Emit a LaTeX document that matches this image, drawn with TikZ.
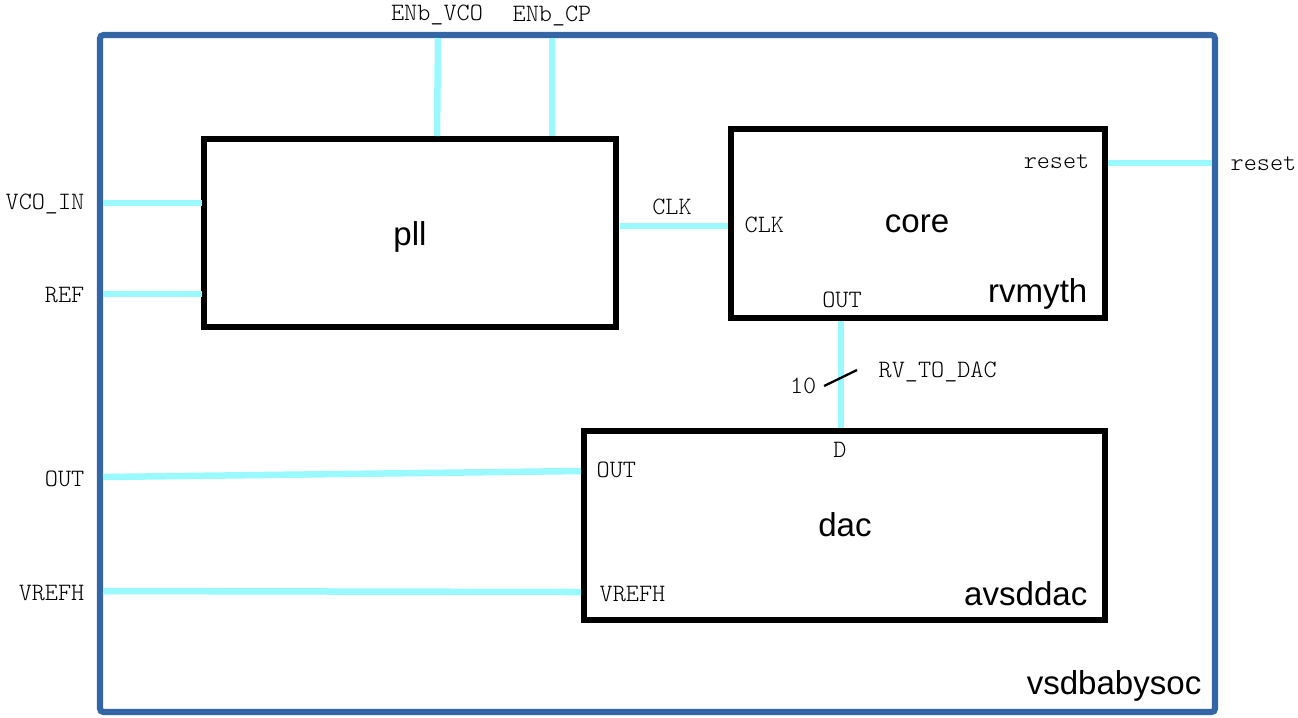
\documentclass[tikz,border=0pt]{standalone}
\usepackage{fontspec}
\setmainfont{Liberation Sans}
\newfontfamily\pinfont{lmmonolt10-regular.otf}
\usetikzlibrary{calc}
\definecolor{wirec}{RGB}{153,249,255}
\definecolor{framec}{RGB}{52,101,164}
\begin{document}
\begin{tikzpicture}[x=0.01cm,y=-0.01cm,
  blk/.style={draw=black,line width=1.45pt,inner sep=0pt,outer sep=0pt,font=\fontsize{9.4}{10}\selectfont},
  frame/.style={draw=framec,line width=1.75pt,inner sep=0pt,outer sep=0pt,rounded corners=1pt},
  wire/.style={draw=wirec,line width=1.85pt},
  pin/.style={font=\pinfont\fontsize{7.1}{8}\selectfont,inner sep=0pt},
  big/.style={font=\fontsize{9.4}{10}\selectfont,inner sep=0pt}]
\useasboundingbox (0,0) rectangle (1298,717);
% frame and blocks
\node[frame,minimum width=1115*0.01cm,minimum height=677*0.01cm] (top) at (657.5,373.5) {};
\node[blk,minimum width=412*0.01cm,minimum height=188*0.01cm] (pll) at (410,233) {};
\node[blk,minimum width=374*0.01cm,minimum height=189*0.01cm] (core) at (918,223.5) {};
\node[blk,minimum width=521*0.01cm,minimum height=189*0.01cm] (dac) at (844.5,525.5) {};
% block names
\node[big] (pllname) at (410,237) {pll};
\node[big] (corename) at (917,224) {core};
\node[big,anchor=east] (rvname) at (1088,294) {rvmyth};
\node[big] (dacname) at (845,525) {dac};
\node[big,anchor=east] (avsname) at (1088,594) {avsddac};
\node[big,anchor=east] (socname) at (1202,686) {vsdbabysoc};
% pin coordinates
\coordinate (envco) at (438,38);
\coordinate (encp) at (552,38);
\coordinate (vcoin) at (103,203);
\coordinate (ref) at (103,294);
\coordinate (outp) at (103,477);
\coordinate (vrefh) at (103,591);
\coordinate (rst) at (1212,163);
% wires
\draw[wire] (envco) -- (437,136);
\draw[wire] (encp) -- ($(pll.north -| encp)+(0,-3)$);
\draw[wire] (vcoin) -- ($(pll.west |- vcoin)+(-2,0)$);
\draw[wire] (ref) -- ($(pll.west |- ref)+(-2,0)$);
\draw[wire] ($(pll.east)+(4,-7)$) coordinate (clka) -- ($(core.west |- clka)+(-3,0)$);
\draw[wire] (rst) -- ($(core.east |- rst)+(3,0)$);
\draw[wire] ($(core.south)+(-77,3)$) coordinate (rvo) -- ($(dac.north -| rvo)+(0,-3)$);
\draw[wire] (outp) -- (581,471);
\draw[wire] (vrefh) -- (581,592);
% bus slash
\coordinate (bs1) at (824,386);
\coordinate (bs2) at (857,370);
\draw[black,line width=0.65pt] (bs1) -- (bs2);
% external labels
\node[pin] (lenvco) at (437,15) {ENb\_VCO};
\node[pin] (lencp) at (552,16) {ENb\_CP};
\node[pin,anchor=east] (lvcoin) at (85,204) {VCO\_IN};
\node[pin,anchor=east] (lref) at (85,295) {REF};
\node[pin,anchor=east] (lout) at (85,479) {OUT};
\node[pin,anchor=east] (lvrefh) at (85,593) {VREFH};
\node[pin,anchor=west] (lrst) at (1230,164) {reset};
\node[pin] (lclkw) at (672,207) {CLK};
\node[pin,anchor=west] (lbus) at (878,372) {RV\_TO\_DAC};
\node[pin,anchor=east] (lten) at (817,386) {10};
% internal pin labels
\node[pin,anchor=west] (cclk) at (744,225) {CLK};
\node[pin,anchor=east] (crst) at (1090,162) {reset};
\node[pin] (cout) at (842,300) {OUT};
\node[pin] (dd) at (840,450) {D};
\node[pin,anchor=west] (dout) at (596,470) {OUT};
\node[pin,anchor=west] (dvrefh) at (599,594) {VREFH};
\end{tikzpicture}
\end{document}
